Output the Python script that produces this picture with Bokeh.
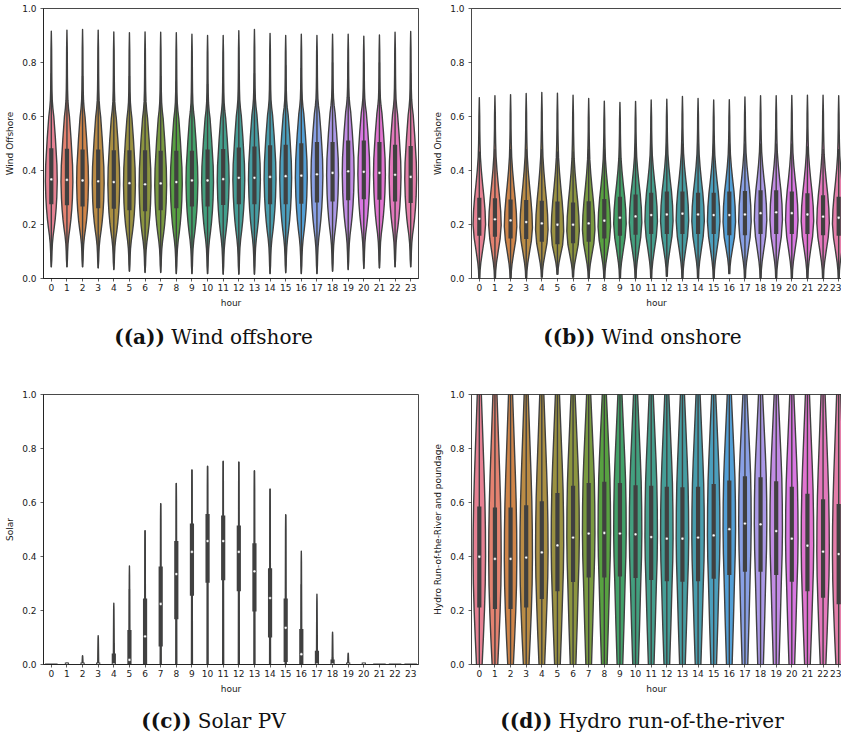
import math
import colorsys

import numpy as np
from bokeh.plotting import figure
from bokeh.models import Range1d, FixedTicker, PrintfTickFormatter, LinearAxis, Div, ColumnDataSource
from bokeh.layouts import column, row
from bokeh.embed import file_html
from bokeh.resources import INLINE

# ---------------------------------------------------------------- data
hours = list(range(24))
hour_labels = [str(h) for h in hours]
y_ticks = [0.0, 0.2, 0.4, 0.6, 0.8, 1.0]

# Wind offshore capacity factor per hour: extremes, quartiles, upper whisker
off_lo = [.043, .043, .043, .039, .033, .027, .022, .022, .018, .018, .018, .016,
          .016, .016, .018, .021, .018, .018, .027, .033, .037, .039, .043, .043]
off_hi = [.916, .920, .922, .920, .913, .910, .913, .912, .910, .905, .900, .900,
          .918, .922, .908, .900, .905, .900, .905, .905, .897, .902, .912, .915]
off_q1 = [.283, .279, .274, .268, .266, .261, .257, .261, .268, .274, .274, .280,
          .283, .283, .283, .283, .285, .289, .293, .298, .301, .299, .293, .287]
off_med = [.367, .365, .363, .360, .357, .353, .349, .352, .357, .363, .363, .368,
           .373, .373, .376, .379, .381, .386, .391, .397, .395, .391, .384, .376]
off_q3 = [.475, .473, .470, .470, .467, .467, .467, .465, .465, .465, .470, .472,
          .477, .481, .486, .488, .493, .498, .498, .503, .503, .498, .488, .483]
off_whi = [.76, .75, .75, .75, .74, .75, .76, .75, .73, .72, .72, .72,
           .75, .76, .78, .79, .78, .81, .80, .80, .80, .80, .78, .76]
# relative density of the hour-0 offshore distribution
off_shape_y = [.043, .07, .10, .13, .16, .19, .22, .26, .30, .36, .42, .47, .52, .56,
               .60, .63, .66, .70, .75, .85, .916]
off_shape_w = [0.0, .03, .045, .07, .12, .19, .25, .31, .35, .38, .36, .31, .26, .21,
               .16, .10, .06, .04, .03, .02, 0.0]

# Wind onshore
on_lo = [0.0, 0.0, 0.0, 0.0, .005, .016, .005, 0.0, 0.0, 0.0, 0.0, 0.0,
         .008, 0.0, 0.0, 0.0, .018, 0.0, 0.0, 0.0, 0.0, 0.0, 0.0, 0.0]
on_hi = [.670, .677, .681, .685, .689, .686, .679, .667, .657, .652, .656, .661,
         .664, .674, .667, .661, .662, .672, .677, .677, .678, .679, .679, .677]
on_q1 = [.166, .162, .156, .154, .144, .135, .138, .144, .156, .166, .170, .173,
         .173, .173, .173, .173, .168, .168, .173, .173, .173, .173, .168, .166]
on_med = [.221, .219, .215, .209, .204, .199, .199, .204, .214, .225, .230, .235,
          .237, .240, .237, .235, .235, .237, .242, .245, .242, .237, .229, .225]
on_q3 = [.291, .289, .285, .283, .280, .277, .274, .278, .287, .295, .303, .310,
         .314, .314, .310, .310, .314, .316, .319, .319, .314, .308, .301, .295]
on_whi = [.47, .48, .48, .48, .48, .47, .47, .48, .48, .49, .50, .50,
          .50, .50, .50, .50, .50, .50, .50, .50, .50, .49, .48, .48]
on_shape_y = [0.0, .03, .06, .10, .15, .20, .25, .30, .35, .40, .45, .50, .55, .60, .670]
on_shape_w = [.03, .05, .10, .20, .33, .40, .37, .30, .21, .13, .07, .045, .03, .025, 0.0]

# Solar PV
sol_max = [0.0, .005, .033, .107, .227, .365, .496, .596, .671, .721, .734, .753,
           .750, .718, .650, .555, .420, .260, .120, .042, .003, 0.0, 0.0, 0.0]
sol_whi = [0.0, 0.0, 0.0, 0.0, .080, .280, .496, .596, .671, .721, .734, .753,
           .750, .718, .650, .555, .297, .107, .027, 0.0, 0.0, 0.0, 0.0, 0.0]
sol_q1 = [0.0, 0.0, 0.0, 0.0, 0.0, 0.0, .005, .074, .175, .262, .311, .320,
          .279, .204, .108, .017, 0.0, 0.0, 0.0, 0.0, 0.0, 0.0, 0.0, 0.0]
sol_med = [0.0, 0.0, 0.0, 0.0, 0.0, .017, .104, .224, .335, .417, .457, .457,
           .417, .345, .246, .136, .038, 0.0, 0.0, 0.0, 0.0, 0.0, 0.0, 0.0]
sol_q3 = [0.0, 0.0, 0.0, 0.0, .033, .120, .237, .355, .450, .514, .550, .544,
          .507, .441, .349, .237, .124, .043, .011, 0.0, 0.0, 0.0, 0.0, 0.0]
sol_shape_t = [0.0, 0.5, 0.9, 1.0]
sol_shape_w = [0.03, 0.02, 0.01, 0.0]

# Hydro run-of-the-river and poundage
hy_lo = [0.0, 0.0, 0.0, 0.0, 0.0, 0.0, 0.0, 0.0, 0.0, 0.0, 0.0, 0.0,
         0.0, 0.0, 0.0, 0.0, 0.0, 0.0, 0.0, 0.0, 0.0, 0.0, 0.0, 0.0]
hy_hi = [1.0, 1.0, 1.0, 1.0, 1.0, 1.0, 1.0, 1.0, 1.0, 1.0, 1.0, 1.0,
         1.0, 1.0, 1.0, 1.0, 1.0, 1.0, 1.0, 1.0, 1.0, 1.0, 1.0, 1.0]
hy_q1 = [.219, .213, .213, .219, .250, .279, .313, .330, .330, .334, .328, .321,
         .316, .314, .316, .325, .339, .351, .351, .339, .314, .279, .255, .231]
hy_med = [.399, .391, .391, .396, .415, .441, .470, .485, .487, .485, .482, .472,
          .466, .466, .470, .478, .501, .522, .519, .494, .466, .440, .418, .409]
hy_q3 = [.577, .574, .574, .582, .597, .627, .654, .664, .669, .664, .656, .654,
         .651, .649, .651, .661, .674, .689, .686, .671, .651, .625, .604, .587]
hy_shape_y = [-0.25, -0.15, -0.05, 0.0, 0.1, 0.2, 0.3, 0.4, 0.5, 0.6, 0.7, 0.8,
              0.9, 1.0, 1.1, 1.2, 1.25]
hy_shape_w = [0.0, 0.06, 0.14, 0.18, 0.26, 0.33, 0.38, 0.40, 0.39, 0.36, 0.31, 0.25,
              0.19, 0.13, 0.07, 0.02, 0.0]

# ---------------------------------------------------------------- colours (HUSL hue wheel)
_M = [[3.2406, -1.5372, -0.4986], [-0.9689, 1.8758, 0.0415], [0.0557, -0.2040, 1.0570]]
_REF_U, _REF_V = 0.19784, 0.46834


def _max_chroma(L, H):
    hrad = math.radians(H)
    sin_h, cos_h = math.sin(hrad), math.cos(hrad)
    sub1 = (L + 16) ** 3 / 1560896.0
    sub2 = sub1 if sub1 > 0.008856 else L / 903.3
    best = float("inf")
    for m1, m2, m3 in _M:
        top = (0.99915 * m1 + 1.05122 * m2 + 1.14460 * m3) * sub2
        rbottom = 0.86330 * m3 - 0.17266 * m2
        lbottom = 0.12949 * m3 - 0.38848 * m1
        bottom = (rbottom * sin_h + lbottom * cos_h) * sub2
        for t in (0.0, 1.0):
            c = L * (top - 1.05122 * t) / (bottom + 0.17266 * sin_h * t)
            if 0.0 < c < best:
                best = c
    return best


def _husl_to_rgb(H, S, L):
    C = _max_chroma(L, H) / 100.0 * S
    hrad = math.radians(H)
    U, V = math.cos(hrad) * C, math.sin(hrad) * C
    t = (L + 16.0) / 116.0
    Y = t ** 3 if t ** 3 > 0.008856 else (116.0 * t - 16.0) / 903.3
    var_u = U / (13.0 * L) + _REF_U
    var_v = V / (13.0 * L) + _REF_V
    X = -(9.0 * Y * var_u) / ((var_u - 4.0) * var_v - var_u * var_v)
    Z = (9.0 * Y - 15.0 * var_v * Y - var_v * X) / (3.0 * var_v)
    out = []
    for r0, r1, r2 in _M:
        c = r0 * X + r1 * Y + r2 * Z
        c = 12.92 * c if c <= 0.0031308 else 1.055 * c ** (1 / 2.4) - 0.055
        out.append(min(max(c, 0.0), 1.0))
    return out


def hour_palette(n, sat=0.75):
    cols = []
    for i in range(n):
        hue = ((i / n) + 0.01) % 1 * 359
        r, g, b = _husl_to_rgb(hue, 0.9 * 99, 0.65 * 99)
        hh, ll, ss = colorsys.rgb_to_hls(r, g, b)
        r, g, b = colorsys.hls_to_rgb(hh, ll, ss * sat)
        cols.append("#%02x%02x%02x" % tuple(int(round(v * 255)) for v in (r, g, b)))
    return cols


PAL = hour_palette(24)
GRAY = "#404040"
INK = "#1a1a1a"
LW = 1.4
BOX_W = 4.2


# ---------------------------------------------------------------- helpers
def warp(y, ref, tgt):
    y = np.asarray(y, float)
    out = np.interp(y, ref, tgt)
    out = np.where(y < ref[0], tgt[0] + (y - ref[0]), out)
    out = np.where(y > ref[-1], tgt[-1] + (y - ref[-1]), out)
    return out


def outline(h, ys, ws):
    ws = np.asarray(ws, float)
    ys = np.asarray(ys, float)
    xs = np.concatenate([h + ws, (h - ws)[::-1]])
    yy = np.concatenate([ys, ys[::-1]])
    return xs.tolist(), yy.tolist()


def panel(width, left, right, top, bottom, x_end, ylabel, boxed):
    p = figure(width=width, height=top + 270 + bottom,
               x_range=Range1d(-0.5, x_end), y_range=Range1d(0, 1),
               min_border_left=left, min_border_right=right,
               min_border_top=top, min_border_bottom=bottom,
               output_backend="svg", toolbar_location=None, tools="")
    p.grid.visible = False
    p.background_fill_color = "white"
    p.border_fill_color = "white"
    p.xaxis.ticker = FixedTicker(ticks=hours)
    p.xaxis.major_label_overrides = {h: s for h, s in zip(hours, hour_labels)}
    p.yaxis.ticker = FixedTicker(ticks=y_ticks)
    p.yaxis.formatter = PrintfTickFormatter(format="%.1f")
    p.xaxis.axis_label = "hour"
    p.yaxis.axis_label = ylabel
    for ax in (p.xaxis[0], p.yaxis[0]):
        ax.axis_label_text_font = "DejaVu Sans"
        ax.axis_label_text_font_size = "9px"
        ax.axis_label_text_font_style = "normal"
        ax.axis_label_text_color = INK
        ax.major_label_text_font = "DejaVu Sans"
        ax.major_label_text_font_size = "9px"
        ax.major_label_text_color = INK
        ax.axis_line_color = INK
        ax.axis_line_width = 0.8
        ax.major_tick_line_color = INK
        ax.major_tick_line_width = 0.7
        ax.major_tick_out = 3
        ax.major_tick_in = 0
        ax.minor_tick_line_color = None
        ax.axis_label_standoff = 4
    p.xaxis.major_label_standoff = 2
    p.yaxis.major_label_standoff = 4
    if boxed:
        p.outline_line_color = INK
        p.outline_line_width = 0.8
        p.outline_line_alpha = 1.0
    else:
        p.outline_line_color = None
        top_axis = LinearAxis(ticker=FixedTicker(ticks=[]), major_tick_out=0, major_tick_in=0,
                              minor_tick_line_color=None, major_label_text_font_size="0px",
                              axis_line_color=INK, axis_line_width=0.8)
        p.add_layout(top_axis, "above")
    return p


def draw_inner(p, wlo, whi, q1, med, q3, mask=None):
    keep = [h for h in hours if mask is None or mask[h]]
    wsrc = ColumnDataSource(dict(x=[h for h in keep if whi[h] > wlo[h]],
                                 y0=[wlo[h] for h in keep if whi[h] > wlo[h]],
                                 y1=[whi[h] for h in keep if whi[h] > wlo[h]]))
    p.segment(x0="x", y0="y0", x1="x", y1="y1", source=wsrc, line_color=GRAY, line_width=LW)
    bsrc = ColumnDataSource(dict(x=keep, y0=[q1[h] for h in keep], y1=[q3[h] for h in keep]))
    p.segment(x0="x", y0="y0", x1="x", y1="y1", source=bsrc, line_color=GRAY,
              line_width=BOX_W, line_cap="square")
    msrc = ColumnDataSource(dict(x=keep, y=[med[h] for h in keep]))
    p.scatter(x="x", y="y", source=msrc, size=2.8, fill_color="white",
              line_color=GRAY, line_width=0.4)


def warped_violins(p, lo, q1, med, q3, hi, shape_y, shape_w):
    ref = [lo[0], q1[0], med[0], q3[0], hi[0]]
    xs, ys = [], []
    for h in hours:
        tgt = [lo[h], q1[h], med[h], q3[h], hi[h]]
        yy = warp(shape_y, ref, tgt)
        x_, y_ = outline(h, yy, shape_w)
        xs.append(x_)
        ys.append(y_)
    src = ColumnDataSource(dict(xs=xs, ys=ys, color=PAL))
    p.patches(xs="xs", ys="ys", source=src, fill_color="color", line_color=GRAY,
              line_width=LW, line_join="round")


# ---------------------------------------------------------------- (a) wind offshore
pa = panel(420, 43, 2, 8, 34, 23.5, "Wind Offshore", True)
warped_violins(pa, off_lo, off_q1, off_med, off_q3, off_hi, off_shape_y, off_shape_w)
draw_inner(pa, off_lo, off_whi, off_q1, off_med, off_q3)

# ---------------------------------------------------------------- (b) wind onshore
pb = panel(421, 51, 0, 8, 34, 23.18, "Wind Onshore", False)
warped_violins(pb, on_lo, on_q1, on_med, on_q3, on_hi, on_shape_y, on_shape_w)
draw_inner(pb, on_lo, on_whi, on_q1, on_med, on_q3)

# ---------------------------------------------------------------- (c) solar PV
pc = panel(420, 43, 2, 9, 32, 23.5, "Solar", True)
s_xs, s_ys, s_col = [], [], []
flat_x0, flat_x1, flat_y = [], [], []
for h in hours:
    if sol_max[h] > 0:
        yy = np.asarray(sol_shape_t) * sol_max[h]
        x_, y_ = outline(h, yy, sol_shape_w)
        s_xs.append(x_)
        s_ys.append(y_)
        s_col.append(PAL[h])
    else:
        flat_x0.append(h - 0.4)
        flat_x1.append(h + 0.4)
        flat_y.append(sol_max[h])
pc.patches(xs="xs", ys="ys", source=ColumnDataSource(dict(xs=s_xs, ys=s_ys, color=s_col)),
           fill_color="color", line_color=GRAY, line_width=LW, line_join="round")
pc.segment(x0=flat_x0, y0=flat_y, x1=flat_x1, y1=flat_y, line_color=GRAY, line_width=2.2)
sol_lo = [0.0] * 24
draw_inner(pc, sol_lo, sol_whi, sol_q1, sol_med, sol_q3, mask=[m > 0 for m in sol_max])

# ---------------------------------------------------------------- (d) hydro
pd_ = panel(421, 51, 0, 9, 32, 23.18, "Hydro Run-of-the-River and poundage", False)
warped_violins(pd_, hy_lo, hy_q1, hy_med, hy_q3, hy_hi, hy_shape_y, hy_shape_w)
draw_inner(pd_, hy_lo, hy_hi, hy_q1, hy_med, hy_q3)


# ---------------------------------------------------------------- captions
def caption(tag, text, width, height, pad_left, pad_top):
    html = (f'<div style="box-sizing:border-box;width:{width}px;height:{height}px;'
            f'padding-left:{pad_left}px;padding-top:{pad_top}px;text-align:center;'
            f"font-family:'DejaVu Serif';font-size:20px;line-height:20px;color:#111;"
            f'white-space:nowrap"><b>(({tag}))</b> {text}</div>')
    return Div(text=html, width=width, height=height, margin=(0, 0, 0, 0))


ca = caption("a", "Wind offshore", 420, 73, 7, 15)
cb = caption("b", "Wind onshore", 421, 73, 24, 15)
cc = caption("c", "Solar PV", 420, 45, 7, 15)
cd = caption("d", "Hydro run-of-the-river", 421, 45, 23, 15)

layout = column(row(pa, pb), row(ca, cb), row(pc, pd_), row(cc, cd))

open("out.html", "w").write(file_html(layout, INLINE))
